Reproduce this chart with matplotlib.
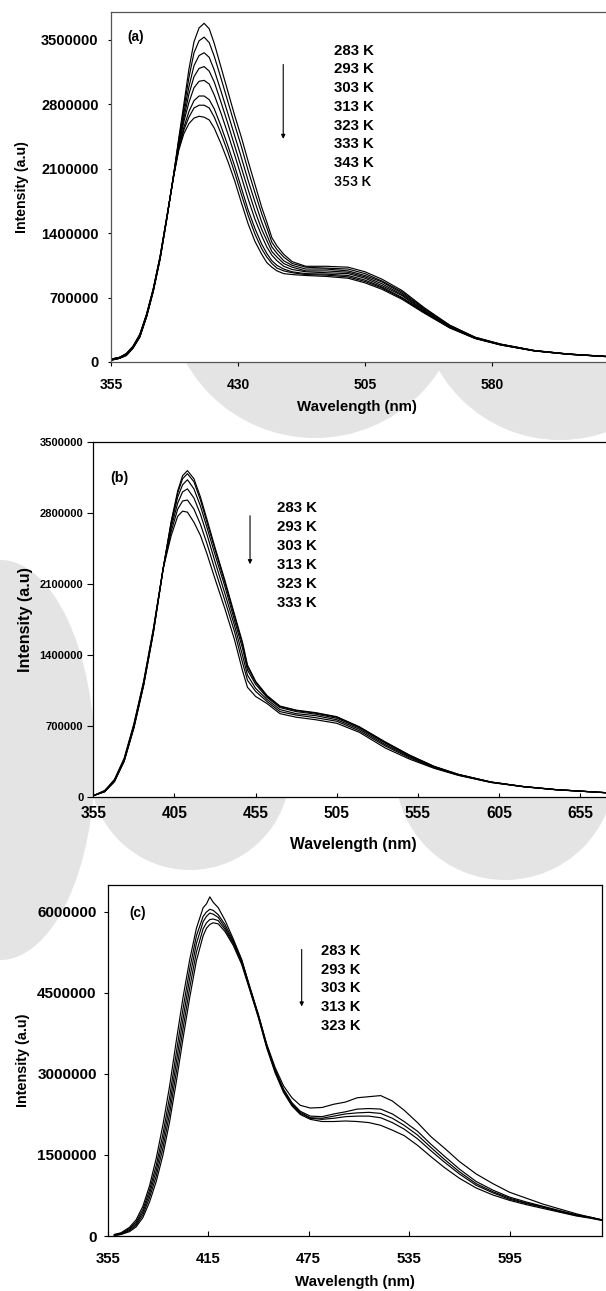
import matplotlib.pyplot as plt
from matplotlib.patches import Ellipse
import numpy as np

plt.rcParams['font.family'] = ['Liberation Sans', 'DejaVu Sans']
plt.rcParams['font.weight'] = 'bold'

# ---------------- panel (a) ----------------
wl_a = [355, 360, 364, 368, 372, 376, 380, 384, 388, 392, 395, 398, 401, 404, 407, 410, 413, 416, 420, 424,
        428, 432, 436, 440, 444, 447, 450, 453, 457, 462, 470, 482, 495, 505, 515, 527, 540, 555, 570, 585,
        605, 625, 655]
# intensities in millions
a_283 = [0.02, 0.04, 0.07, 0.15, 0.27, 0.49, 0.77, 1.12, 1.56, 2.04, 2.43, 2.80, 3.18, 3.48, 3.63, 3.68, 3.62, 3.46, 3.20, 2.94,
         2.68, 2.44, 2.18, 1.93, 1.68, 1.52, 1.35, 1.26, 1.17, 1.09, 1.04, 1.04, 1.03, 0.98, 0.90, 0.775, 0.59, 0.40, 0.27, 0.195,
         0.125, 0.087, 0.052]
a_293 = [0.02, 0.04, 0.07, 0.15, 0.27, 0.49, 0.77, 1.12, 1.56, 2.04, 2.41, 2.75, 3.09, 3.36, 3.49, 3.53, 3.47, 3.32, 3.08, 2.83,
         2.58, 2.34, 2.08, 1.84, 1.61, 1.46, 1.30, 1.22, 1.14, 1.07, 1.03, 1.02, 1.01, 0.96, 0.88, 0.76, 0.58, 0.40, 0.268, 0.194,
         0.124, 0.087, 0.052]
a_303 = [0.02, 0.04, 0.08, 0.16, 0.28, 0.50, 0.78, 1.13, 1.57, 2.03, 2.39, 2.70, 2.99, 3.22, 3.33, 3.36, 3.31, 3.17, 2.94, 2.70,
         2.46, 2.22, 1.97, 1.74, 1.52, 1.38, 1.25, 1.18, 1.10, 1.05, 1.01, 1.01, 0.99, 0.94, 0.87, 0.745, 0.57, 0.39, 0.265, 0.192,
         0.123, 0.086, 0.051]
a_313 = [0.02, 0.04, 0.08, 0.16, 0.28, 0.50, 0.78, 1.13, 1.57, 2.03, 2.37, 2.65, 2.91, 3.10, 3.19, 3.21, 3.16, 3.04, 2.82, 2.59,
         2.35, 2.11, 1.87, 1.64, 1.44, 1.32, 1.20, 1.14, 1.07, 1.03, 0.99, 0.99, 0.975, 0.925, 0.85, 0.73, 0.56, 0.386, 0.263, 0.19,
         0.123, 0.086, 0.051]
a_323 = [0.03, 0.05, 0.08, 0.16, 0.29, 0.51, 0.79, 1.14, 1.57, 2.03, 2.35, 2.61, 2.82, 2.98, 3.05, 3.06, 3.02, 2.90, 2.70, 2.48,
         2.25, 2.01, 1.77, 1.55, 1.37, 1.25, 1.16, 1.10, 1.04, 1.005, 0.98, 0.97, 0.96, 0.91, 0.83, 0.72, 0.55, 0.38, 0.26, 0.19,
         0.122, 0.085, 0.051]
a_333 = [0.03, 0.05, 0.09, 0.17, 0.29, 0.51, 0.79, 1.14, 1.58, 2.02, 2.33, 2.55, 2.72, 2.84, 2.89, 2.89, 2.85, 2.75, 2.56, 2.35,
         2.13, 1.89, 1.65, 1.45, 1.28, 1.18, 1.10, 1.05, 1.01, 0.98, 0.96, 0.955, 0.94, 0.89, 0.815, 0.70, 0.543, 0.377, 0.258, 0.187,
         0.121, 0.085, 0.05]
a_343 = [0.03, 0.05, 0.09, 0.17, 0.30, 0.52, 0.80, 1.15, 1.58, 2.02, 2.32, 2.52, 2.66, 2.76, 2.79, 2.79, 2.76, 2.66, 2.48, 2.28,
         2.06, 1.82, 1.59, 1.39, 1.23, 1.14, 1.07, 1.02, 0.99, 0.97, 0.95, 0.944, 0.925, 0.875, 0.804, 0.692, 0.538, 0.374, 0.257, 0.186,
         0.121, 0.084, 0.05]
a_353 = [0.03, 0.05, 0.09, 0.17, 0.30, 0.52, 0.80, 1.15, 1.58, 2.02, 2.30, 2.48, 2.59, 2.65, 2.67, 2.66, 2.63, 2.54, 2.37, 2.18,
         1.97, 1.73, 1.50, 1.31, 1.17, 1.08, 1.03, 0.99, 0.96, 0.95, 0.94, 0.93, 0.91, 0.86, 0.79, 0.68, 0.53, 0.37, 0.255, 0.185,
         0.12, 0.084, 0.05]
labels_a = ['283 K', '293 K', '303 K', '313 K', '323 K', '333 K', '343 K', '353 K']
xticks_a = [355, 430, 505, 580]
yticks_a = [0, 700000, 1400000, 2100000, 2800000, 3500000]

# ---------------- panel (b) ----------------
wl_b = [355, 362, 368, 374, 380, 386, 392, 398, 403, 407, 410, 413, 417, 421, 425, 430, 436, 442,
        447, 450, 455, 462, 470, 480, 492, 505, 519, 535, 550, 565, 580, 600, 620, 640, 670, 705]
b_283 = [0.01, 0.05, 0.15, 0.35, 0.68, 1.10, 1.62, 2.25, 2.72, 3.02, 3.17, 3.22, 3.14, 2.96, 2.74, 2.46, 2.14, 1.80,
         1.52, 1.30, 1.14, 1.00, 0.895, 0.855, 0.83, 0.79, 0.69, 0.54, 0.41, 0.30, 0.22, 0.145, 0.10, 0.07, 0.04, 0.025]
b_293 = [0.01, 0.05, 0.15, 0.35, 0.68, 1.10, 1.62, 2.25, 2.71, 3.00, 3.14, 3.19, 3.11, 2.93, 2.71, 2.44, 2.12, 1.78,
         1.50, 1.28, 1.13, 0.99, 0.89, 0.85, 0.825, 0.785, 0.686, 0.535, 0.407, 0.298, 0.22, 0.145, 0.10, 0.07, 0.04, 0.025]
b_303 = [0.01, 0.05, 0.15, 0.36, 0.69, 1.11, 1.63, 2.25, 2.69, 2.96, 3.08, 3.13, 3.04, 2.87, 2.66, 2.39, 2.08, 1.74,
         1.46, 1.25, 1.11, 0.98, 0.88, 0.84, 0.815, 0.775, 0.678, 0.527, 0.40, 0.295, 0.218, 0.144, 0.10, 0.07, 0.04, 0.025]
b_313 = [0.01, 0.05, 0.16, 0.36, 0.70, 1.12, 1.64, 2.25, 2.66, 2.90, 3.01, 3.04, 2.95, 2.79, 2.59, 2.32, 2.01, 1.69,
         1.39, 1.20, 1.07, 0.96, 0.86, 0.82, 0.80, 0.76, 0.665, 0.513, 0.392, 0.291, 0.215, 0.143, 0.099, 0.069, 0.04, 0.025]
b_323 = [0.01, 0.06, 0.16, 0.37, 0.71, 1.13, 1.65, 2.25, 2.62, 2.84, 2.92, 2.93, 2.84, 2.69, 2.50, 2.24, 1.94, 1.63,
         1.32, 1.15, 1.04, 0.94, 0.84, 0.806, 0.78, 0.745, 0.65, 0.50, 0.382, 0.286, 0.213, 0.142, 0.099, 0.069, 0.04, 0.025]
b_333 = [0.01, 0.06, 0.17, 0.38, 0.72, 1.14, 1.66, 2.25, 2.58, 2.77, 2.82, 2.81, 2.71, 2.58, 2.40, 2.15, 1.86, 1.55,
         1.24, 1.08, 0.99, 0.92, 0.82, 0.785, 0.76, 0.725, 0.635, 0.48, 0.37, 0.28, 0.21, 0.14, 0.098, 0.068, 0.04, 0.025]
labels_b = ['283 K', '293 K', '303 K', '313 K', '323 K', '333 K']
xticks_b = [355, 405, 455, 505, 555, 605, 655]
yticks_b = [0, 700000, 1400000, 2100000, 2800000, 3500000]

# ---------------- panel (c) ----------------
wl_c = [359, 363, 368, 372, 376, 380, 384, 388, 392, 396, 400, 404, 408, 412, 414, 416, 418, 421, 425, 430,
        435, 440, 445, 450, 455, 460, 465, 470, 476, 483, 490, 497, 504, 511, 518, 525, 532, 540, 548, 556,
        565, 575, 585, 595, 605, 615, 625, 635, 643, 650]
c_283 = [0.03, 0.06, 0.16, 0.30, 0.55, 0.93, 1.44, 2.06, 2.78, 3.62, 4.42, 5.12, 5.70, 6.08, 6.15, 6.28, 6.18, 6.08, 5.85, 5.50,
         5.12, 4.60, 4.10, 3.55, 3.12, 2.78, 2.56, 2.42, 2.37, 2.38, 2.44, 2.48, 2.56, 2.58, 2.60, 2.50, 2.33, 2.10, 1.84, 1.63,
         1.38, 1.15, 0.97, 0.81, 0.70, 0.59, 0.50, 0.41, 0.35, 0.30]
c_293 = [0.02, 0.05, 0.14, 0.26, 0.49, 0.85, 1.31, 1.89, 2.58, 3.40, 4.21, 4.95, 5.56, 5.92, 6.00, 6.05, 6.03, 5.95, 5.77, 5.47,
         5.11, 4.59, 4.09, 3.53, 3.08, 2.72, 2.47, 2.31, 2.22, 2.21, 2.26, 2.30, 2.35, 2.36, 2.35, 2.26, 2.12, 1.94, 1.70, 1.48,
         1.24, 1.01, 0.85, 0.72, 0.63, 0.55, 0.47, 0.39, 0.35, 0.30]
c_303 = [0.02, 0.04, 0.12, 0.23, 0.44, 0.78, 1.21, 1.76, 2.42, 3.22, 4.02, 4.78, 5.42, 5.82, 5.92, 5.98, 5.96, 5.90, 5.72, 5.44,
         5.09, 4.58, 4.08, 3.52, 3.06, 2.70, 2.45, 2.29, 2.19, 2.18, 2.22, 2.26, 2.28, 2.29, 2.27, 2.18, 2.05, 1.87, 1.64, 1.42,
         1.19, 0.97, 0.82, 0.70, 0.61, 0.54, 0.46, 0.39, 0.34, 0.30]
c_313 = [0.01, 0.03, 0.10, 0.20, 0.39, 0.71, 1.11, 1.63, 2.27, 3.04, 3.84, 4.60, 5.26, 5.69, 5.80, 5.86, 5.87, 5.84, 5.68, 5.41,
         5.06, 4.56, 4.06, 3.50, 3.04, 2.68, 2.43, 2.27, 2.18, 2.16, 2.18, 2.21, 2.22, 2.22, 2.19, 2.10, 1.98, 1.80, 1.58, 1.37,
         1.15, 0.94, 0.80, 0.68, 0.60, 0.53, 0.45, 0.38, 0.34, 0.29]
c_323 = [0.01, 0.03, 0.08, 0.17, 0.34, 0.63, 1.01, 1.50, 2.12, 2.86, 3.66, 4.42, 5.10, 5.56, 5.70, 5.77, 5.80, 5.78, 5.64, 5.38,
         5.03, 4.54, 4.04, 3.48, 3.02, 2.66, 2.41, 2.25, 2.16, 2.12, 2.12, 2.13, 2.12, 2.10, 2.05, 1.96, 1.86, 1.68, 1.47, 1.27,
         1.07, 0.89, 0.76, 0.66, 0.58, 0.51, 0.44, 0.37, 0.33, 0.29]
labels_c = ['283 K', '293 K', '303 K', '313 K', '323 K']
xticks_c = [355, 415, 475, 535, 595]
yticks_c = [0, 1500000, 3000000, 4500000, 6000000]


def spectra(ax, wl, curves):
    for c in curves:
        ax.plot(wl, np.array(c) * 1e6, color='black', lw=0.85)


def style(ax, xticks, yticks, xs, ys, xdir, xlen, xpad, ylen, ypad, spine_color='black'):
    ax.set_xticks(xticks)
    ax.set_xticklabels([str(t) for t in xticks], fontsize=xs, fontweight='bold')
    ax.set_yticks(yticks)
    ax.set_yticklabels([str(t) for t in yticks], fontsize=ys, fontweight='bold')
    ax.tick_params(axis='x', direction=xdir, length=xlen, pad=xpad, width=0.8)
    ax.tick_params(axis='y', direction='out', length=ylen, pad=ypad, width=0.8)
    for s in ax.spines.values():
        s.set_color(spine_color)
        s.set_linewidth(0.9)


fig = plt.figure(figsize=(6.06, 12.91), dpi=100)

# faint watermark shapes behind the panels (image pixel coords: x, y from top, radius)
for cx, cy, rx, ry in [(315, 290, 148, 148), (560, 300, 140, 140), (0, 760, 95, 200),
                       (190, 770, 100, 100), (505, 770, 110, 110)]:
    fig.add_artist(Ellipse((cx / 606, 1 - cy / 1291), 2 * rx / 606, 2 * ry / 1291,
                           transform=fig.transFigure, color='#e4e4e4', lw=0, zorder=-5))

# (a)
ax1 = fig.add_axes([0.1832, 0.7196, 0.8383, 0.2709])
spectra(ax1, wl_a, [a_283, a_293, a_303, a_313, a_323, a_333, a_343, a_353])
ax1.set_xlim(355, 655)
ax1.set_ylim(0, 3800000)
style(ax1, xticks_a, yticks_a, 10, 10.5, 'out', 3, 8.5, 2.5, 6.5, spine_color='#555555')
ax1.set_xlabel('Wavelength (nm)', fontsize=10.8, fontweight='bold')
ax1.xaxis.set_label_coords(0.485, -0.128)
ax1.xaxis.label.set_va('center')
ax1.set_ylabel('Intensity (a.u)', fontsize=10.2, fontweight='bold')
ax1.yaxis.set_label_coords(-0.176, 0.5)
ax1.yaxis.label.set_va('center')
ax1.text(0.0315, 0.930, '(a)', transform=ax1.transAxes, fontsize=9.8, fontweight='bold', va='center')
for i, lab in enumerate(labels_a):
    if lab == '353 K':
        ax1.text(0.4396, 0.890 - i * 0.05348, lab, transform=ax1.transAxes, fontsize=10,
                 fontweight='bold', family=['Lato', 'DejaVu Sans'], va='center')
    else:
        ax1.text(0.4396, 0.890 - i * 0.05348, lab, transform=ax1.transAxes, fontsize=10.8,
                 fontweight='bold', va='center')
ax1.annotate('', xy=(0.339, 0.630), xytext=(0.339, 0.8587), xycoords='axes fraction',
             arrowprops=dict(arrowstyle='-|>', color='black', lw=0.8, mutation_scale=6))

# (b)
ax2 = fig.add_axes([0.1540, 0.3829, 0.9373, 0.2745])
spectra(ax2, wl_b, [b_283, b_293, b_303, b_313, b_323, b_333])
ax2.set_xlim(355, 705)
ax2.set_ylim(0, 3500000)
style(ax2, xticks_b, yticks_b, 11.2, 8, 'in', 3, 6.5, 4, 3.2)
ax2.set_xlabel('Wavelength (nm)', fontsize=11.3, fontweight='bold')
ax2.xaxis.set_label_coords(0.4585, -0.1363)
ax2.xaxis.label.set_va('center')
ax2.set_ylabel('Intensity (a.u)', fontsize=11.6, fontweight='bold')
ax2.yaxis.set_label_coords(-0.1202, 0.5)
ax2.yaxis.label.set_va('center')
ax2.text(0.0294, 0.8984, '(b)', transform=ax2.transAxes, fontsize=10.3, fontweight='bold', va='center')
for i, lab in enumerate(labels_b):
    ax2.text(0.3229, 0.8155 - i * 0.0536, lab, transform=ax2.transAxes, fontsize=10.8,
             fontweight='bold', va='center')
ax2.annotate('', xy=(0.2759, 0.6481), xytext=(0.2759, 0.8005), xycoords='axes fraction',
             arrowprops=dict(arrowstyle='-|>', color='black', lw=0.8, mutation_scale=6))

# (c)
ax3 = fig.add_axes([0.1777, 0.0426, 0.8152, 0.2719])
spectra(ax3, wl_c, [c_283, c_293, c_303, c_313, c_323])
ax3.set_xlim(355, 650)
ax3.set_ylim(0, 6500000)
style(ax3, xticks_c, yticks_c, 10.7, 11, 'in', 3.5, 11.5, 3, 4.9)
ax3.set_xlabel('Wavelength (nm)', fontsize=10.8, fontweight='bold')
ax3.xaxis.set_label_coords(0.4996, -0.1302)
ax3.xaxis.label.set_va('center')
ax3.set_ylabel('Intensity (a.u)', fontsize=10.4, fontweight='bold')
ax3.yaxis.set_label_coords(-0.1709, 0.5)
ax3.yaxis.label.set_va('center')
ax3.text(0.0437, 0.921, '(c)', transform=ax3.transAxes, fontsize=9.8, fontweight='bold', va='center')
for i, lab in enumerate(labels_c):
    ax3.text(0.4312, 0.812 - i * 0.0532, lab, transform=ax3.transAxes, fontsize=10.6,
             fontweight='bold', va='center')
ax3.annotate('', xy=(0.3927, 0.6459), xytext=(0.3927, 0.8242), xycoords='axes fraction',
             arrowprops=dict(arrowstyle='-|>', color='black', lw=0.8, mutation_scale=6))

fig.savefig('out.png', dpi=100)
